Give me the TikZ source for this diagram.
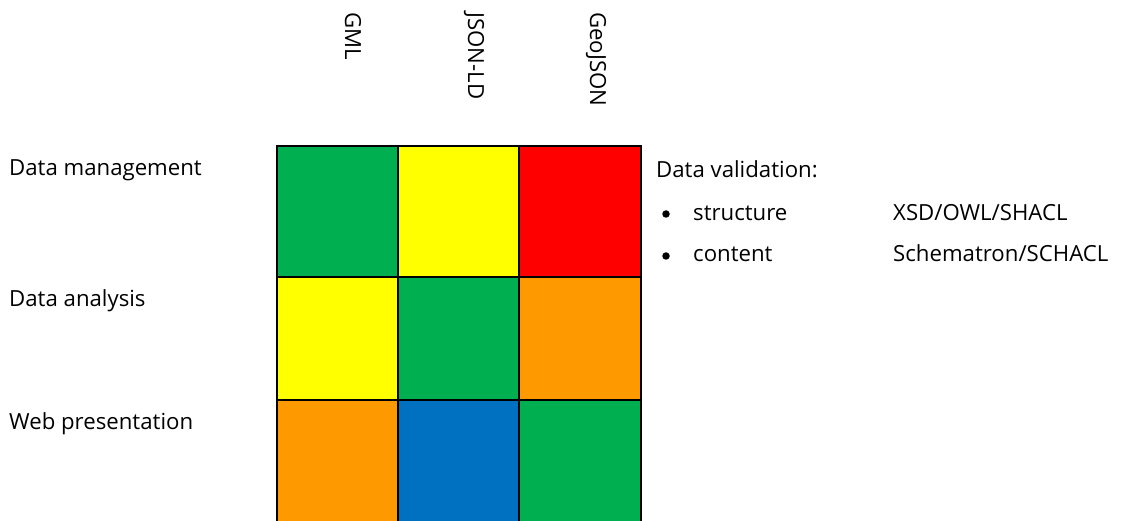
\documentclass[tikz,border=0pt]{standalone}
\usepackage{fontspec}
\setmainfont{Open Sans}
\begin{document}
\begin{tikzpicture}[x=1pt,y=-1pt,
  lbl/.style={anchor=base west,inner sep=0pt,font=\fontsize{22.2}{26}\selectfont},
  hdr/.style={lbl,rotate=-90},
  dot/.style={circle,fill=black,inner sep=0pt,minimum size=7.5pt},
]
\definecolor{cgreen}{HTML}{00B050}
\definecolor{cyellow}{HTML}{FFFF00}
\definecolor{cred}{HTML}{FF0000}
\definecolor{corange}{HTML}{FF9900}
\definecolor{cblue}{HTML}{0070C0}
\useasboundingbox (0,0) rectangle (1135,521);
% column headers
\node[hdr] (h1) at (345,12) {GML};
\node[hdr] (h2) at (468,12) {JSON-LD};
\node[hdr] (h3) at (590,12) {GeoJSON};
% row labels
\node[lbl] (r1) at (9,176) {Data management};
\node[lbl] (r2) at (9,307) {Data analysis};
\node[lbl] (r3) at (9,429) {Web presentation};
% matrix cells
\fill[cgreen]  (276.5,146.5) rectangle (397.5,277.5);
\fill[cyellow] (397.5,146.5) rectangle (518.5,277.5);
\fill[cred]    (518.5,146.5) rectangle (640.5,277.5);
\fill[cyellow] (276.5,277.5) rectangle (397.5,399.5);
\fill[cgreen]  (397.5,277.5) rectangle (518.5,399.5);
\fill[corange] (518.5,277.5) rectangle (640.5,399.5);
\fill[corange] (276.5,399.5) rectangle (397.5,530);
\fill[cblue]   (397.5,399.5) rectangle (518.5,530);
\fill[cgreen]  (518.5,399.5) rectangle (640.5,530);
\draw[line width=2pt] (276.5,530) -- (276.5,146.5) -- (640.5,146.5) -- (640.5,530);
\draw[line width=2pt] (397.5,146.5) -- (397.5,530) (518.5,146.5) -- (518.5,530);
\draw[line width=2pt] (276.5,277.5) -- (640.5,277.5) (276.5,399.5) -- (640.5,399.5);
% validation notes
\node[lbl] (v0) at (656,178) {Data validation:};
\node[dot] (b1) at (666,214) {};
\node[lbl] (v1) at (693,221) {structure};
\node[dot] (b2) at (666,256) {};
\node[lbl] (v2) at (693,262) {content};
\node[lbl] (t1) at (893,221) {XSD/OWL/SHACL};
\node[lbl] (t2) at (893,262) {Schematron/SCHACL};
\end{tikzpicture}
\end{document}
